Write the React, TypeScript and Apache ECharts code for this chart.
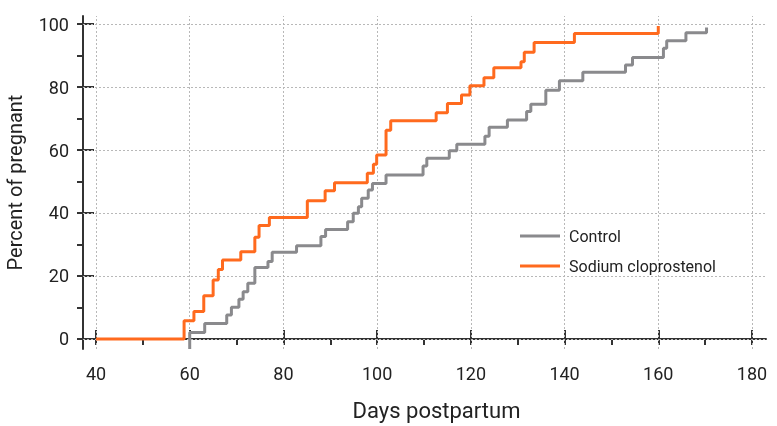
import React, { useEffect, useRef } from "react";
import * as echarts from "echarts";

const controlDays = [60, 60, 63.2, 67.9, 68.9, 70.5, 71.4, 72.4, 73.9, 76.7, 77.6, 82.8, 88.0, 89.0, 93.7, 94.9, 96.0, 96.7, 98.1, 99.0, 101.9, 109.8, 110.6, 115.4, 117.0, 123.0, 123.9, 127.8, 131.9, 132.8, 136.0, 138.9, 143.9, 153.0, 154.5, 161.1, 161.8, 165.9, 170.3];
const controlPct = [-3.2, 2.1, 4.9, 7.6, 10.1, 12.6, 15.0, 17.7, 22.7, 24.6, 27.5, 29.6, 32.5, 34.8, 37.2, 39.9, 42.0, 44.7, 47.3, 49.4, 52.1, 54.9, 57.4, 59.8, 61.8, 64.4, 67.2, 69.5, 72.2, 74.5, 79.0, 82.0, 84.7, 87.0, 89.4, 92.3, 94.7, 97.2, 98.9];

const sodiumDays = [40, 58.8, 60.9, 63.0, 65.0, 66.1, 67.0, 70.9, 73.9, 74.8, 77.0, 85.1, 88.9, 90.9, 97.9, 99.2, 99.9, 101.9, 102.9, 112.6, 115.0, 118.0, 119.8, 122.8, 124.9, 130.7, 131.4, 133.5, 142.1, 160.0];
const sodiumPct = [0, 5.8, 8.7, 13.7, 18.7, 22.1, 25.1, 27.7, 32.3, 36.0, 38.6, 43.9, 47.1, 49.6, 52.6, 55.5, 58.4, 66.3, 69.3, 71.8, 74.8, 77.5, 80.4, 82.9, 86.1, 88.0, 91.0, 94.1, 97.0, 99.4];

const xMajor = [40, 60, 80, 100, 120, 140, 160, 180];
const xMinor = [40, 50, 60, 70, 80, 90, 100, 110, 120, 130, 140, 150, 160, 170, 180];
const yMajor = [0, 20, 40, 60, 80, 100];
const yMinor = [0, 10, 20, 30, 40, 50, 60, 70, 80, 90, 100];

const seriesNames = ["Control", "Sodium cloprostenol"];
const colors = ["#8a8a8d", "#ff6a1e"];

const FONT = "Roboto, 'Noto Sans', sans-serif";
const AX = "#333333";
const GRIDC = "#b8b8b8";

export default function App() {
  const ref = useRef<HTMLDivElement>(null);
  useEffect(() => {
    document.body.style.margin = "0";
    if (!ref.current) return;
    const chart = echarts.init(ref.current, undefined, { renderer: "svg" });
    const xMin = 37.226, xMax = 182.99, yMin = -3.175, yMax = 102.54;
    const gridLines = [
      ...xMajor.map((v) => ({ xAxis: v })),
      ...yMajor.map((v) => ({ yAxis: v })),
    ];
    chart.setOption({
      animation: false,
      textStyle: { fontFamily: FONT },
      grid: { left: 83, right: 11, top: 16, bottom: 77, containLabel: false, outerBoundsMode: "none" },
      legend: {
        orient: "vertical",
        left: 520,
        top: 228,
        padding: 0,
        icon: "rect",
        itemWidth: 40,
        itemHeight: 3,
        itemGap: 14,
        textStyle: { fontSize: 16, color: "#222", fontFamily: FONT, padding: [0, 0, 0, 4] },
        data: seriesNames,
      },
      xAxis: [
        {
          type: "value",
          min: xMin,
          max: xMax,
          position: "bottom",
          axisLine: { show: true, lineStyle: { color: AX, width: 2 } },
          axisTick: { show: true, customValues: xMinor, length: 6, lineStyle: { color: AX, width: 2 } },
          axisLabel: { customValues: xMajor, fontSize: 18, color: "#222", margin: 15, fontFamily: FONT },
          splitLine: { show: false },
          name: "Days postpartum",
          nameLocation: "middle",
          nameGap: 50,
          nameTextStyle: { fontSize: 22, color: "#222", fontFamily: FONT, padding: [0, 0, 0, 24] },
        },
        {
          type: "value",
          min: xMin,
          max: xMax,
          position: "bottom",
          axisLine: { show: false },
          axisTick: { show: true, inside: true, customValues: xMajor, length: 9, lineStyle: { color: AX, width: 2 } },
          axisLabel: { show: false },
          splitLine: { show: false },
        },
      ],
      yAxis: [
        {
          type: "value",
          min: yMin,
          max: yMax,
          position: "left",
          axisLine: { show: true, lineStyle: { color: AX, width: 2 } },
          axisTick: { show: true, customValues: yMinor, length: 6, lineStyle: { color: AX, width: 2 } },
          axisLabel: { customValues: yMajor, fontSize: 18, color: "#222", margin: 14, fontFamily: FONT },
          splitLine: { show: false },
          name: "Percent of pregnant",
          nameLocation: "middle",
          nameGap: 58,
          nameTextStyle: { fontSize: 20, color: "#222", fontFamily: FONT },
        },
        {
          type: "value",
          min: yMin,
          max: yMax,
          position: "left",
          axisLine: { show: false },
          axisTick: { show: true, inside: true, customValues: yMajor, length: 11, lineStyle: { color: AX, width: 2 } },
          axisLabel: { show: false },
          splitLine: { show: false },
        },
      ],
      series: [
        {
          name: seriesNames[0],
          type: "line",
          step: "end",
          xAxisIndex: 0,
          yAxisIndex: 0,
          symbol: "none",
          color: colors[0],
          z: 3,
          lineStyle: { width: 3, color: colors[0] },
          data: controlDays.map((d, i) => [d, controlPct[i]]),
          markLine: {
            silent: true,
            symbol: "none",
            z: 1,
            label: { show: false },
            lineStyle: { color: GRIDC, width: 1, type: [2, 2] },
            emphasis: { disabled: true },
            data: gridLines,
          },
        },
        {
          name: seriesNames[1],
          type: "line",
          step: "end",
          xAxisIndex: 0,
          yAxisIndex: 0,
          symbol: "none",
          color: colors[1],
          z: 4,
          lineStyle: { width: 3, color: colors[1] },
          data: sodiumDays.map((d, i) => [d, sodiumPct[i]]),
        },
      ],
    });
    return () => chart.dispose();
  }, []);
  return (
    <div style={{ position: "fixed", left: 0, top: 0 }}>
      <div ref={ref} style={{ width: 777, height: 426 }} />
    </div>
  );
}
